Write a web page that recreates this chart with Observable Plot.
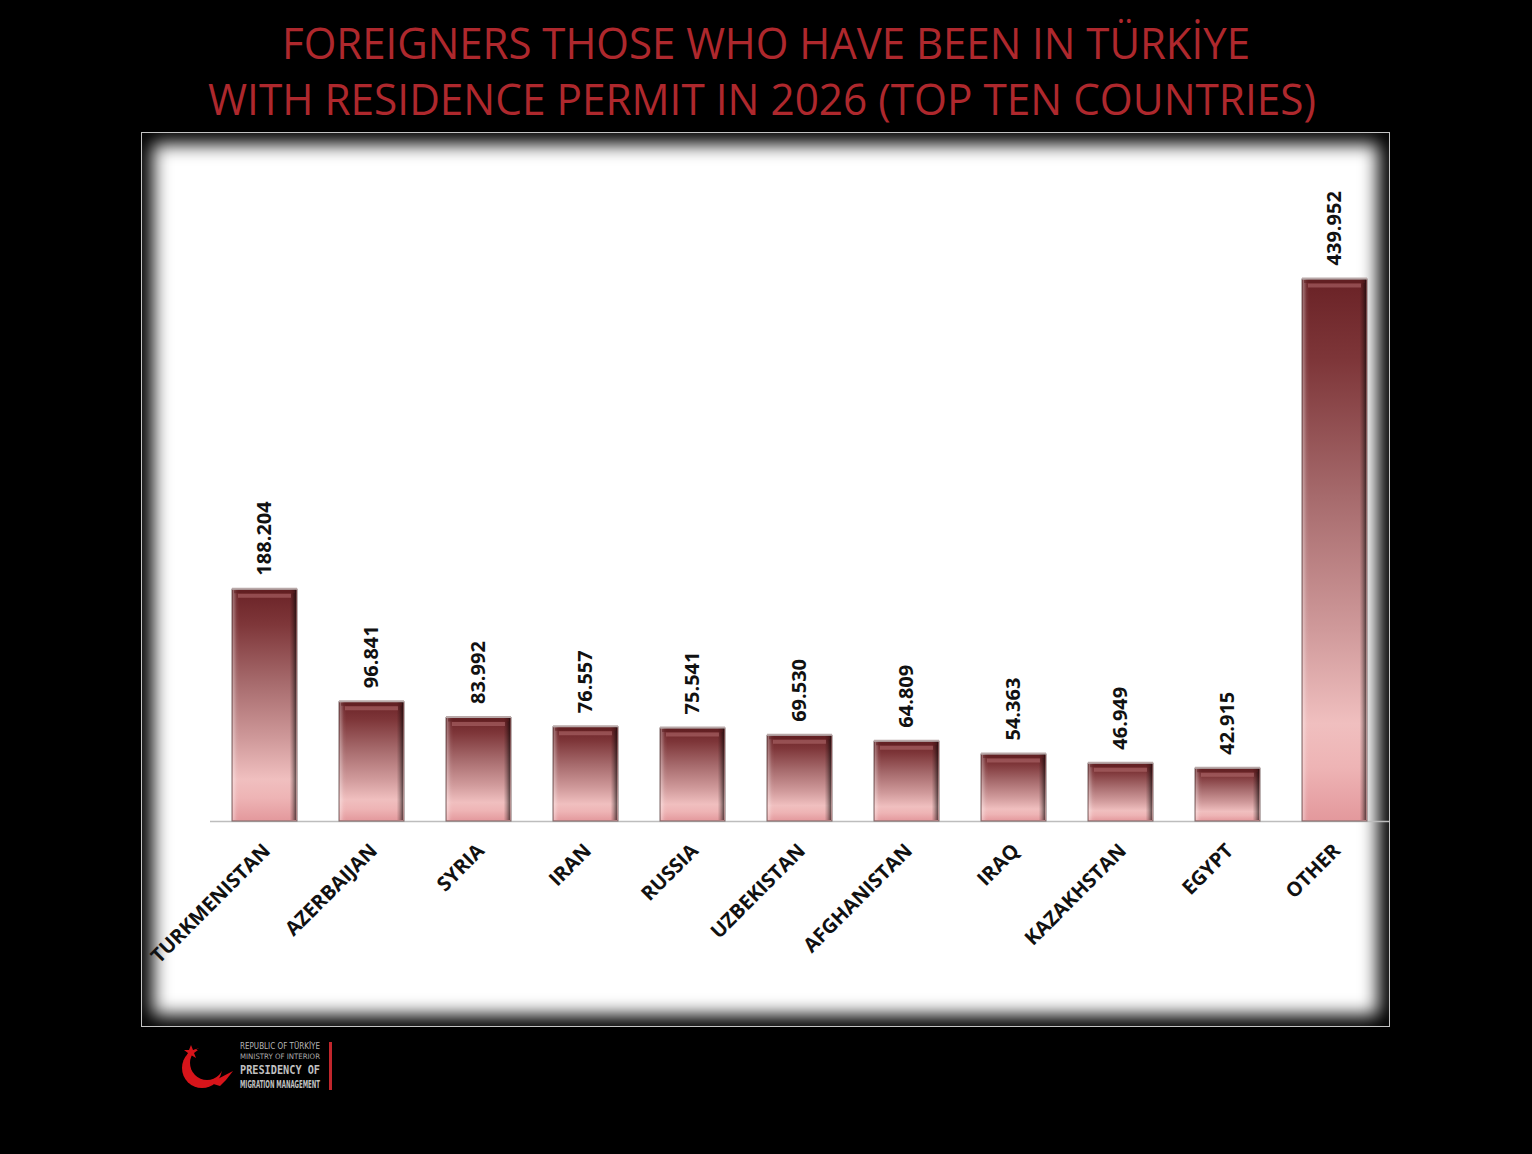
<!DOCTYPE html>
<html>
<head>
<meta charset="utf-8">
<script src="https://cdn.jsdelivr.net/npm/d3@7"></script>
<script src="https://cdn.jsdelivr.net/npm/@observablehq/plot@0.6"></script>
<style>
  html, body { margin: 0; padding: 0; background: #000; }
  #page { position: relative; width: 1532px; height: 1154px; background: #000; overflow: hidden; }
  #title { position: absolute; left: 0; top: 0; }
  #frame { position: absolute; left: 141px; top: 132px; width: 1249px; height: 895px; box-sizing: border-box;
           border: 1.5px solid #c4c4c4; background: #fff; box-shadow: inset 0 0 18px 11px #000; }
  #chart { position: absolute; left: 143px; top: 134px; }
  #logo { position: absolute; left: 180px; top: 1036px; }
</style>
</head>
<body>
<div id="page">
  <svg id="title" width="1532" height="130">
    <text id="t1" x="766" y="59" text-anchor="middle" textLength="968" lengthAdjust="spacingAndGlyphs"
          font-family="Open Sans" font-size="43" fill="#ae282d"></text>
    <text id="t2" x="762" y="115" text-anchor="middle" textLength="1108" lengthAdjust="spacingAndGlyphs"
          font-family="Open Sans" font-size="43" fill="#ae282d"></text>
  </svg>
  <div id="frame"></div>
  <div id="chart"></div>
  <svg id="logo" width="300" height="70">
    <circle cx="22" cy="32" r="20" fill="#d7141a"/>
    <circle cx="27" cy="27" r="17" fill="#000"/>
    <path d="M30 47 L53 35 L46 44 L40 50 Z" fill="#d7141a"/>
    <polygon points="11,9 13,14 18,14 14,17 16,22 11,19 6,22 8,17 4,14 9,14" fill="#d7141a"/>
    <text x="60" y="13" font-family="DejaVu Sans Condensed, DejaVu Sans" font-size="8.5" fill="#b8b8b8" textLength="80" lengthAdjust="spacingAndGlyphs">REPUBLIC OF TÜRKİYE</text>
    <text x="60" y="23" font-family="DejaVu Sans Condensed, DejaVu Sans" font-size="7.5" fill="#a8a8a8" textLength="80" lengthAdjust="spacingAndGlyphs">MINISTRY OF INTERIOR</text>
    <text x="60" y="38" font-family="DejaVu Sans Mono" font-weight="bold" font-size="12" fill="#c0c0c0" textLength="80" lengthAdjust="spacingAndGlyphs">PRESIDENCY OF</text>
    <text x="60" y="52" font-family="DejaVu Sans Condensed, DejaVu Sans" font-weight="bold" font-size="11" fill="#c0c0c0" textLength="80" lengthAdjust="spacingAndGlyphs">MIGRATION MANAGEMENT</text>
    <rect x="149" y="6" width="3" height="48" fill="#c0262c"/>
  </svg>
</div>
<script>
// ---- data ----
const titleLines = ["FOREIGNERS THOSE WHO HAVE BEEN IN TÜRKİYE", "WITH RESIDENCE PERMIT IN 2026 (TOP TEN COUNTRIES)"];
const countries = ["TURKMENISTAN", "AZERBAIJAN", "SYRIA", "IRAN", "RUSSIA", "UZBEKISTAN", "AFGHANISTAN", "IRAQ", "KAZAKHSTAN", "EGYPT", "OTHER"];
const permits = [188204, 96841, 83992, 76557, 75541, 69530, 64809, 54363, 46949, 42915, 439952];

document.getElementById("t1").textContent = titleLines[0];
document.getElementById("t2").textContent = titleLines[1];

const fmt = d3.formatLocale({decimal: ",", thousands: ".", grouping: [3], currency: ["", ""]}).format(",d");
const data = countries.map((c, i) => ({country: c, value: permits[i]}));

const chart = Plot.plot({
  width: 1246,
  height: 892,
  marginLeft: 67,
  marginRight: 0,
  marginTop: 71,
  marginBottom: 205,
  style: {background: "transparent", overflow: "visible"},
  x: {domain: countries, paddingInner: 0.39, paddingOuter: 0.2, axis: null},
  y: {domain: [0, 500000], axis: null},
  marks: [
    Plot.ruleY([0], {stroke: "#bdbdbd", strokeWidth: 1.5}),
    Plot.barY(data, {x: "country", y: "value", fill: "url(#barV)", stroke: "#7a6666", strokeWidth: 1}),
    Plot.barY(data, {x: "country", y: "value", fill: "url(#barH)", insetLeft: 1, insetRight: 1, insetBottom: 1}),
    Plot.tickY(data, {x: "country", y: "value", stroke: "#b9a9a9", strokeWidth: 2, dy: -1}),
    Plot.tickY(data, {x: "country", y: "value", stroke: "#5a1c1e", strokeOpacity: 0.5, strokeWidth: 3, dy: 2, insetLeft: 2, insetRight: 2}),
    Plot.tickY(data, {x: "country", y: "value", stroke: "#c07c7e", strokeOpacity: 0.45, strokeWidth: 4, dy: 6, insetLeft: 6, insetRight: 6}),
    Plot.text(data, {x: "country", y: "value", text: d => fmt(d.value), rotate: -90, textAnchor: "start",
      dy: -14, fontSize: 20, fontWeight: "bold", fill: "#111", fontFamily: "Open Sans"}),
    Plot.text(data, {x: "country", y: 0, text: "country", rotate: -45, textAnchor: "end",
      dy: 26, dx: 2, fontSize: 20, fontWeight: "bold", fill: "#111", fontFamily: "Open Sans"})
  ]
});

// gradients for the bevelled bars
const defs = d3.select(chart).insert("defs", ":first-child");
const gv = defs.append("linearGradient").attr("id", "barV").attr("x1", 0).attr("y1", 0).attr("x2", 0).attr("y2", 1);
[[0, "#6a2226"], [0.15, "#7e3639"], [0.4, "#a66a6c"], [0.65, "#d09a9b"], [0.82, "#f0bfbf"], [0.9, "#eeb4b5"], [1, "#e3989c"]]
  .forEach(([o, c]) => gv.append("stop").attr("offset", o).attr("stop-color", c));
const gh = defs.append("linearGradient").attr("id", "barH").attr("x1", 0).attr("y1", 0).attr("x2", 1).attr("y2", 0);
[[0, "#ffffff", 0.35], [0.06, "#ffffff", 0.05], [0.1, "#ffffff", 0], [0.9, "#000000", 0], [0.95, "#000000", 0.25], [1, "#000000", 0.6]]
  .forEach(([o, c, a]) => gh.append("stop").attr("offset", o).attr("stop-color", c).attr("stop-opacity", a));

document.getElementById("chart").appendChild(chart);
</script>
</body>
</html>
